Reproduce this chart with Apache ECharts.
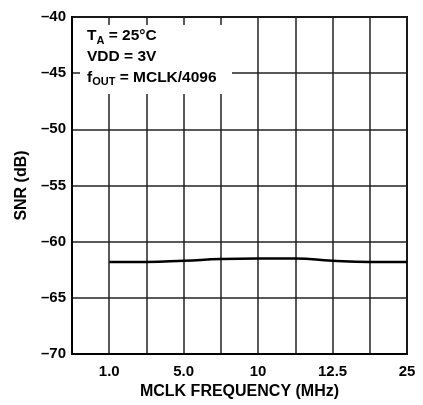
<!DOCTYPE html>
<html>
<head>
<meta charset="utf-8">
<script src="https://cdn.jsdelivr.net/npm/echarts@6/dist/echarts.min.js"></script>
<style>
html,body{margin:0;padding:0;background:#fff;}
#c{width:423px;height:405px;}
</style>
</head>
<body>
<div id="c"></div>
<script>
// Tick positions on the x grid (9 equal divisions) and their labels
var xTickPos = [1, 3, 5, 7, 9];
var xTickLabels = ['1.0', '5.0', '10', '12.5', '25'];
// SNR curve, sampled at grid positions
var xPos = [1, 2, 3, 4, 5, 6, 7, 8, 9];
var snr = [-61.8, -61.8, -61.7, -61.55, -61.5, -61.5, -61.7, -61.8, -61.8];
var yMin = -70, yMax = -40, yStep = 5;

var chart = echarts.init(document.getElementById('c'), null, {renderer: 'canvas'});
var font = 'Liberation Sans, Arial, Helvetica, sans-serif';
chart.setOption({
  animation: false,
  grid: {left: 72, right: 16, top: 17, bottom: 51, show: true, borderColor: '#000', borderWidth: 2},
  xAxis: {
    type: 'value', min: 0, max: 9, interval: 1,
    name: 'MCLK FREQUENCY (MHz)', nameLocation: 'middle', nameGap: 30,
    nameTextStyle: {fontFamily: font, fontWeight: 'bold', fontSize: 16, color: '#000'},
    axisLine: {show: true, lineStyle: {color: '#000', width: 2}},
    axisTick: {show: false},
    axisLabel: {
      fontFamily: font, fontWeight: 'bold', fontSize: 15, color: '#000', margin: 10,
      formatter: function (v) { var i = xTickPos.indexOf(v); return i >= 0 ? xTickLabels[i] : ''; }
    },
    splitLine: {show: true, lineStyle: {color: '#222', width: 1.5}}
  },
  yAxis: {
    type: 'value', min: yMin, max: yMax, interval: yStep,
    name: 'SNR (dB)', nameLocation: 'middle', nameGap: 40, nameRotate: 90,
    nameTextStyle: {fontFamily: font, fontWeight: 'bold', fontSize: 16, color: '#000'},
    axisLine: {show: true, lineStyle: {color: '#000', width: 2}},
    axisTick: {show: false},
    axisLabel: {
      fontFamily: font, fontWeight: 'bold', fontSize: 15, color: '#000', margin: 6,
      formatter: function (v) { return String(v).replace('-', '\u2013'); }
    },
    splitLine: {show: true, lineStyle: {color: '#222', width: 1.5}}
  },
  series: [{
    type: 'line', smooth: true, showSymbol: false,
    data: xPos.map(function (x, i) { return [x, snr[i]]; }),
    lineStyle: {color: '#000', width: 2.5}
  }],
  graphic: [
    {type: 'rect', shape: {x: 80, y: 25, width: 152, height: 69}, style: {fill: '#fff'}, z: 10},
    {type: 'text', left: 87, top: 26, z: 11, style: {
      text: '{b|T}{s|A}{b| = 25°C}\n{b|VDD = 3V}\n{b|f}{s|OUT}{b| = MCLK/4096}',
      rich: {
        b: {fontFamily: font, fontWeight: 'bold', fontSize: 15.5, fill: '#000', lineHeight: 20.7, verticalAlign: 'middle'},
        s: {fontFamily: font, fontWeight: 'bold', fontSize: 11, fill: '#000', lineHeight: 20.7, padding: [9, 0, 0, 0], verticalAlign: 'middle'}
      }
    }}
  ]
});
</script>
</body>
</html>
